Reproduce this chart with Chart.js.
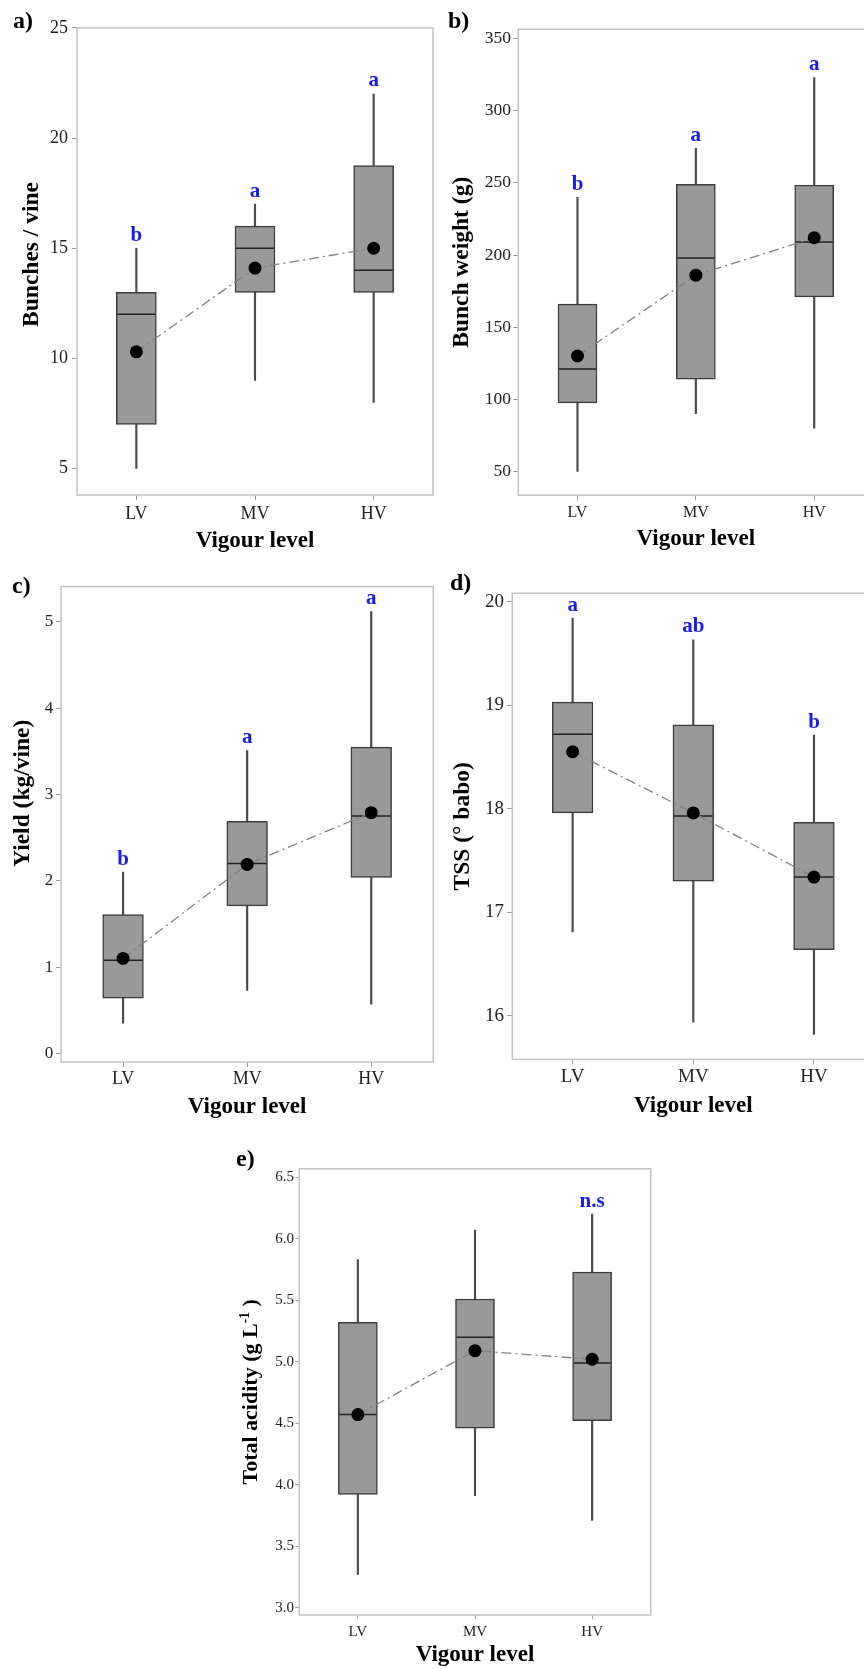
<!DOCTYPE html>
<html lang="en">
<head>
<meta charset="UTF-8">
<title>Vigour level box plots</title>
<script src="https://cdn.jsdelivr.net/npm/chart.js"></script>
<style>
    body {
        margin: 0;
        width: 864px;
        height: 1669px;
        position: relative;
        overflow: hidden;
        background: #fff;
        font-family: "Liberation Serif", "Times New Roman", serif;
    }
    .panel { position: absolute; }
    .tag {
        position: absolute;
        font-weight: bold;
        font-size: 24px;
        line-height: 24px;
        color: #000;
    }
</style>
</head>
<body>

<div class="panel" style="left:0;top:0;width:440px;height:560px"><canvas id="chartA"></canvas></div>
<div class="panel" style="left:430px;top:0;width:450px;height:560px"><canvas id="chartB"></canvas></div>
<div class="panel" style="left:0;top:560px;width:440px;height:580px"><canvas id="chartC"></canvas></div>
<div class="panel" style="left:430px;top:560px;width:450px;height:580px"><canvas id="chartD"></canvas></div>
<div class="panel" style="left:200px;top:1140px;width:480px;height:529px"><canvas id="chartE"></canvas></div>

<div class="tag" style="left:13px;top:8px">a)</div>
<div class="tag" style="left:448px;top:8px">b)</div>
<div class="tag" style="left:12px;top:573px">c)</div>
<div class="tag" style="left:450px;top:570px">d)</div>
<div class="tag" style="left:236px;top:1146px">e)</div>

<script>
    const categories = ['LV', 'MV', 'HV'];

    // a) bunches per vine
    const bunchLow = [5, 9, 8];
    const bunchQ1 = [7, 13, 13];
    const bunchMedian = [12, 15, 14];
    const bunchQ3 = [13, 16, 18.75];
    const bunchHigh = [15, 17, 22];
    const bunchMean = [10.3, 14.1, 15];
    const bunchLetters = ['b', 'a', 'a'];

    // b) bunch weight (g)
    const weightLow = [50, 90, 80];
    const weightQ1 = [97.5, 114, 171];
    const weightMedian = [121, 198, 209];
    const weightQ3 = [166, 249, 248.5];
    const weightHigh = [240, 274, 323];
    const weightMean = [130, 186, 212];
    const weightLetters = ['b', 'a', 'a'];

    // c) yield (kg/vine)
    const yieldLow = [0.35, 0.73, 0.57];
    const yieldQ1 = [0.64, 1.71, 2.04];
    const yieldMedian = [1.08, 2.20, 2.75];
    const yieldQ3 = [1.61, 2.69, 3.55];
    const yieldHigh = [2.10, 3.51, 5.12];
    const yieldMean = [1.10, 2.19, 2.79];
    const yieldLetters = ['b', 'a', 'a'];

    // d) TSS (° babo)
    const tssLow = [16.81, 15.94, 15.82];
    const tssQ1 = [17.96, 17.30, 16.64];
    const tssMedian = [18.72, 17.93, 17.34];
    const tssQ3 = [19.03, 18.81, 17.87];
    const tssHigh = [19.84, 19.63, 18.71];
    const tssMean = [18.55, 17.96, 17.34];
    const tssLetters = ['a', 'ab', 'b'];

    // e) total acidity (g/L)
    const acidLow = [3.27, 3.91, 3.71];
    const acidQ1 = [3.92, 4.46, 4.52];
    const acidMedian = [4.57, 5.20, 4.99];
    const acidQ3 = [5.32, 5.51, 5.73];
    const acidHigh = [5.83, 6.07, 6.20];
    const acidMean = [4.57, 5.09, 5.02];
    const acidLetters = ['', '', 'n.s'];

    const FONT = '"Liberation Serif", "Times New Roman", serif';
    Chart.defaults.font.family = FONT;
    Chart.defaults.color = '#222';

    // frame round the plot area, y title (needs a superscript in e), letters above whiskers
    const boxExtras = {
        id: 'boxExtras',
        beforeDatasetsDraw(chart) {
            const {ctx, chartArea: a} = chart;
            ctx.save();
            ctx.strokeStyle = '#c2c2c2';
            ctx.lineWidth = 1.5;
            ctx.strokeRect(a.left, a.top, a.right - a.left, a.bottom - a.top);
            ctx.restore();
        },
        afterDatasetsDraw(chart, args, opts) {
            const {ctx, chartArea: a, scales: {x, y}} = chart;
            ctx.save();
            ctx.fillStyle = '#1a1aee';
            ctx.font = 'bold 21px ' + FONT;
            ctx.textAlign = 'center';
            ctx.textBaseline = 'alphabetic';
            opts.letters.forEach((t, i) => {
                if (t) ctx.fillText(t, x.getPixelForValue(i), y.getPixelForValue(opts.tops[i]) - 7.5);
            });
            ctx.restore();

            // rotated y title
            const size = opts.titleSize;
            ctx.save();
            ctx.translate(opts.titleX, (a.top + a.bottom) / 2 + opts.titleShift);
            ctx.rotate(-Math.PI / 2);
            ctx.fillStyle = '#000';
            ctx.textAlign = 'left';
            ctx.textBaseline = 'middle';
            const fonts = opts.title.map(p => 'bold ' + (p.sup ? size * 0.62 : size) + 'px ' + FONT);
            const widths = opts.title.map((p, i) => { ctx.font = fonts[i]; return ctx.measureText(p.text).width; });
            let px = -widths.reduce((s, w) => s + w, 0) / 2;
            opts.title.forEach((p, i) => {
                ctx.font = fonts[i];
                ctx.fillText(p.text, px, p.sup ? -size * 0.3 : 0);
                px += widths[i];
            });
            ctx.restore();
        }
    };

    function boxChart(id, d) {
        const boxW = d.boxWidth;
        return new Chart(document.getElementById(id), {
            type: 'bar',
            data: {
                labels: categories,
                datasets: [
                    {
                        data: d.low.map((v, i) => [v, d.high[i]]),
                        backgroundColor: '#4a4a4a',
                        barThickness: 1.5,
                        grouped: false,
                        order: 4
                    },
                    {
                        data: d.q1.map((v, i) => [v, d.q3[i]]),
                        backgroundColor: '#999999',
                        borderColor: '#3c3c3c',
                        borderWidth: 1.5,
                        borderSkipped: false,
                        barThickness: boxW,
                        grouped: false,
                        order: 3
                    },
                    {
                        type: 'line',
                        data: d.median,
                        showLine: false,
                        pointStyle: 'line',
                        pointRadius: boxW / 2 - 1,
                        pointBorderColor: '#222',
                        pointBorderWidth: 1.5,
                        order: 2
                    },
                    {
                        type: 'line',
                        data: d.mean,
                        borderColor: '#808080',
                        borderWidth: 1.3,
                        borderDash: [10, 4, 2, 4],
                        pointRadius: 6.5,
                        pointBackgroundColor: '#000',
                        pointBorderColor: '#000',
                        pointBorderWidth: 0,
                        tension: 0,
                        order: 1
                    }
                ]
            },
            options: {
                responsive: true,
                maintainAspectRatio: false,
                animation: false,
                events: [],
                layout: { padding: d.padding, autoPadding: false },
                plugins: {
                    legend: { display: false },
                    tooltip: { enabled: false },
                    boxExtras: {
                        letters: d.letters, tops: d.high,
                        title: d.yTitle, titleSize: d.yTitleSize, titleX: d.yTitleX, titleShift: d.yTitleShift
                    }
                },
                scales: {
                    x: {
                        offset: true,
                        grid: { display: true, offset: false, drawOnChartArea: false, tickLength: d.tick, color: '#999' },
                        border: { display: false },
                        ticks: { font: { size: d.xTickSize }, padding: d.xTickPad, color: '#222' },
                        title: {
                            display: true,
                            text: 'Vigour level',
                            color: '#000',
                            font: { size: 23, weight: 'bold' },
                            padding: { top: 0, bottom: d.xTitlePad }
                        },
                        afterFit: s => { s.height = d.xHeight; s.paddingLeft = 0; s.paddingRight = 0; }
                    },
                    y: {
                        min: d.min,
                        max: d.max,
                        grid: { display: true, drawOnChartArea: false, tickLength: d.tick, color: '#999' },
                        border: { display: false },
                        ticks: {
                            stepSize: d.step,
                            includeBounds: false,
                            font: { size: d.yTickSize },
                            padding: d.yTickPad,
                            color: '#222',
                            callback: d.decimals ? (v => v.toFixed(d.decimals)) : (v => v)
                        },
                        title: { display: false },
                        afterFit: s => { s.width = d.yWidth; s.paddingTop = 0; s.paddingBottom = 0; }
                    }
                }
            },
            plugins: [boxExtras]
        });
    }

    boxChart('chartA', {
        low: bunchLow, q1: bunchQ1, median: bunchMedian, q3: bunchQ3, high: bunchHigh, mean: bunchMean,
        letters: bunchLetters, yTitle: [{ text: 'Bunches / vine' }],
        min: 3.8, max: 25, step: 5,
        boxWidth: 40, tick: 5,
        padding: { left: 0, top: 27.9, right: 7, bottom: 0 },
        yWidth: 77, xHeight: 65,
        yTickSize: 18, yTickPad: 4,
        yTitleSize: 23.5, yTitleX: 32, yTitleShift: -7,
        xTickSize: 18, xTickPad: 3.5, xTitlePad: 5.2
    });

    boxChart('chartB', {
        low: weightLow, q1: weightQ1, median: weightMedian, q3: weightQ3, high: weightHigh, mean: weightMean,
        letters: weightLetters, yTitle: [{ text: 'Bunch weight (g)' }],
        min: 33.4, max: 356.5, step: 50,
        boxWidth: 39, tick: 5,
        padding: { left: 0, top: 29.3, right: 6.6, bottom: 0 },
        yWidth: 88.3, xHeight: 64.7,
        yTickSize: 17.5, yTickPad: 2.3,
        yTitleSize: 23.5, yTitleX: 31.7, yTitleShift: 0,
        xTickSize: 16, xTickPad: 3.1, xTitlePad: 6.9
    });

    boxChart('chartC', {
        low: yieldLow, q1: yieldQ1, median: yieldMedian, q3: yieldQ3, high: yieldHigh, mean: yieldMean,
        letters: yieldLetters, yTitle: [{ text: 'Yield (kg/vine)' }],
        min: -0.1, max: 5.41, step: 1,
        boxWidth: 40.7, tick: 5,
        padding: { left: 0, top: 26.6, right: 6.7, bottom: 0 },
        yWidth: 61, xHeight: 78,
        yTickSize: 17, yTickPad: 2.7,
        yTitleSize: 23.5, yTitleX: 23.3, yTitleShift: -31,
        xTickSize: 18, xTickPad: 1, xTitlePad: 18.8
    });

    boxChart('chartD', {
        low: tssLow, q1: tssQ1, median: tssMedian, q3: tssQ3, high: tssHigh, mean: tssMean,
        letters: tssLetters, yTitle: [{ text: 'TSS (° babo)' }],
        min: 15.58, max: 20.08, step: 1,
        boxWidth: 40.7, tick: 5,
        padding: { left: 0, top: 33.3, right: 5.7, bottom: 0 },
        yWidth: 82.3, xHeight: 80.6,
        yTickSize: 19, yTickPad: 3.3,
        yTitleSize: 23.5, yTitleX: 33.3, yTitleShift: 0,
        xTickSize: 19, xTickPad: 1.7, xTitlePad: 20.6
    });

    boxChart('chartE', {
        low: acidLow, q1: acidQ1, median: acidMedian, q3: acidQ3, high: acidHigh, mean: acidMean,
        letters: acidLetters,
        yTitle: [{ text: 'Total acidity (g L' }, { text: '-1', sup: true }, { text: ' )' }],
        min: 2.94, max: 6.57, step: 0.5, decimals: 1,
        boxWidth: 39, tick: 4,
        padding: { left: 0, top: 28.7, right: 29.3, bottom: 0 },
        yWidth: 99.3, xHeight: 54,
        yTickSize: 15, yTickPad: 1.3,
        yTitleSize: 22, yTitleX: 51.7, yTitleShift: 0,
        xTickSize: 15, xTickPad: 4.5, xTitlePad: 0
    });
</script>
</body>
</html>
